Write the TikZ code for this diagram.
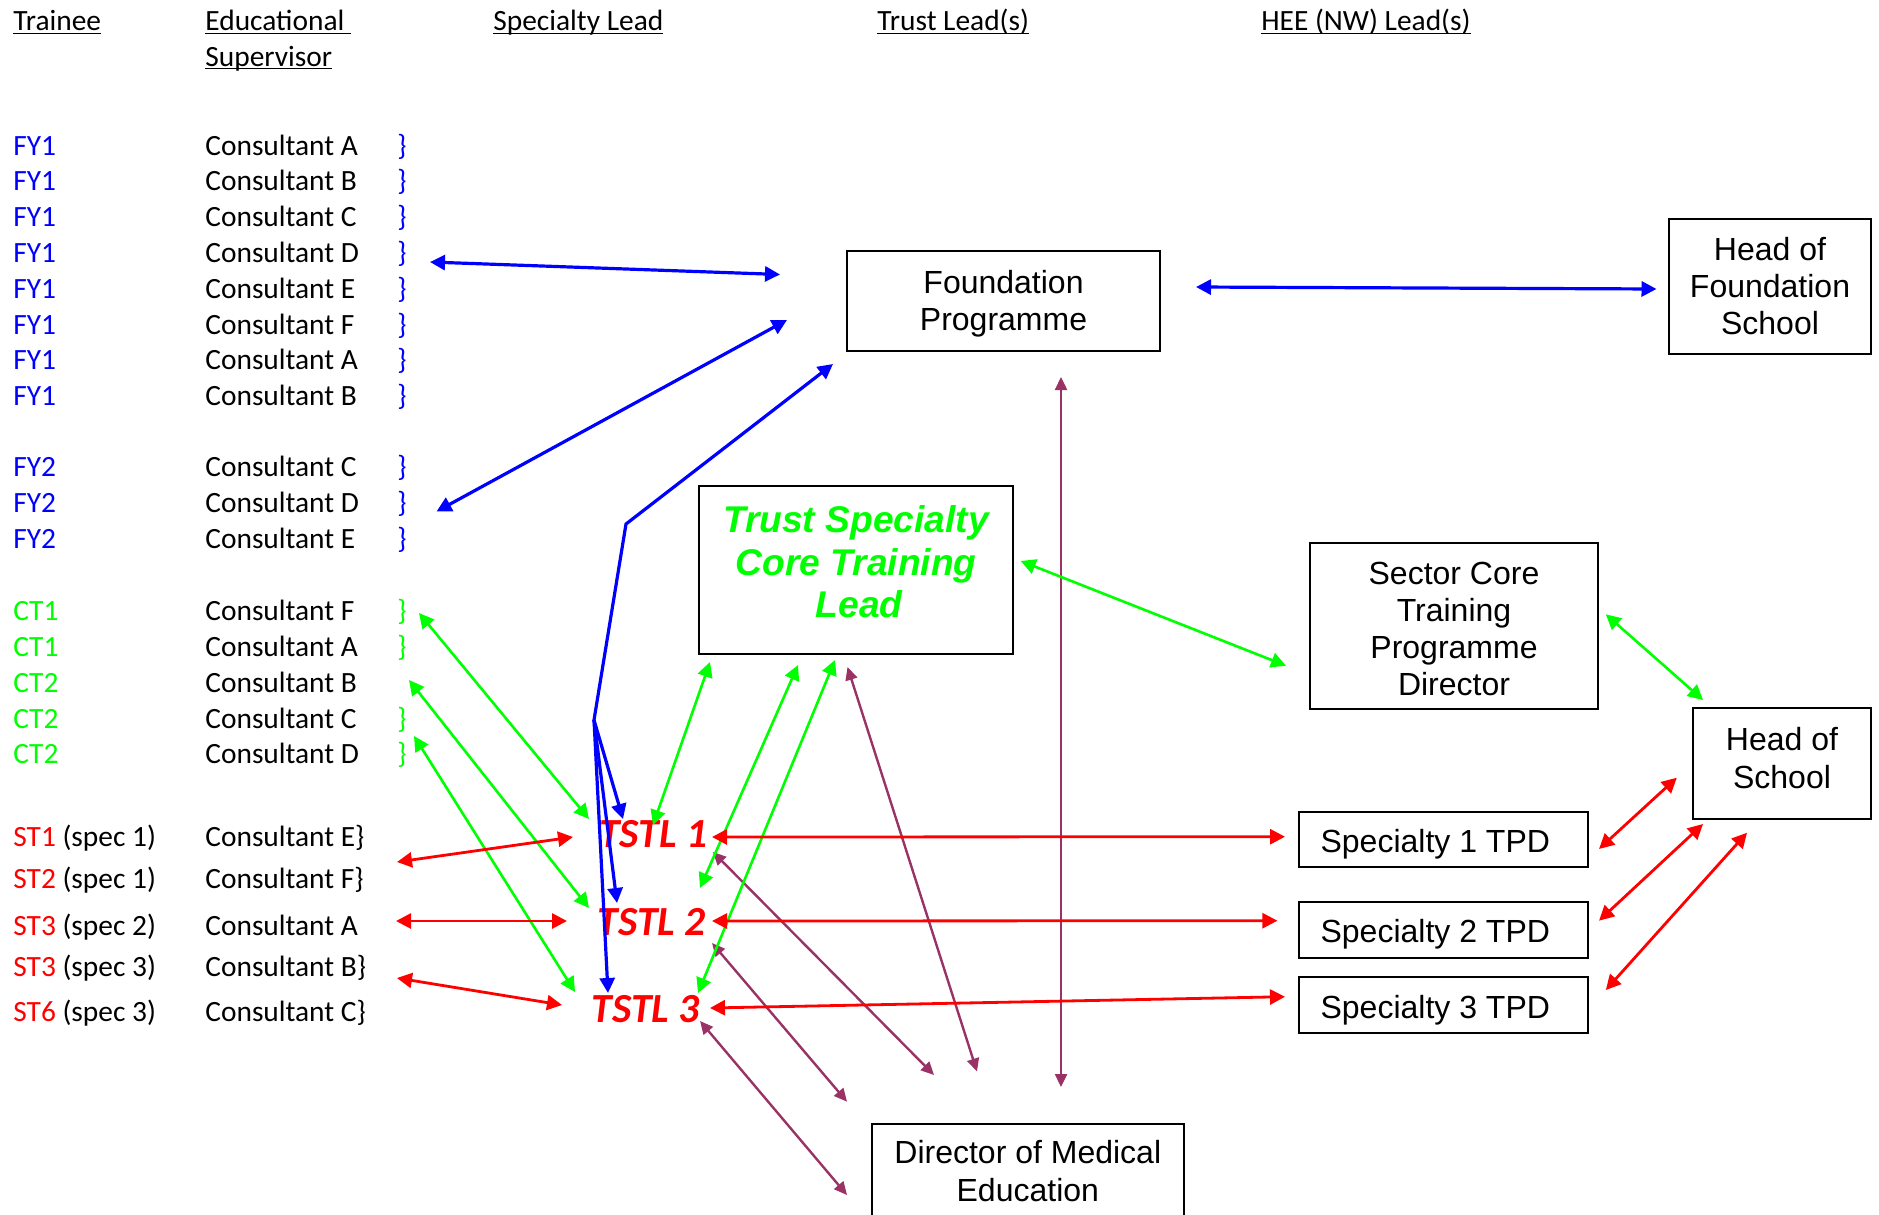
\documentclass[tikz,border=0pt]{standalone}
\usepackage{fontspec}
\setmainfont{Carlito}
\newfontfamily\arialfont{Liberation Sans}
\usetikzlibrary{arrows.meta}
\definecolor{cblue}{RGB}{0,0,255}
\definecolor{cgreen}{RGB}{0,255,0}
\definecolor{cred}{RGB}{255,0,0}
\definecolor{cpurple}{RGB}{153,51,102}
\newcommand{\ulx}[1]{\underline{\smash{#1}}}
\newcommand{\dn}[1]{\rule[-#1]{0pt}{#1}}
\begin{document}
\begin{tikzpicture}[x=0.5pt,y=-0.5pt,
  txt/.style={anchor=base west,inner sep=0pt,font=\fontsize{14.7}{17.7}\selectfont},
  box/.style={draw=black,line width=1pt,align=center,inner sep=0pt,font=\arialfont\fontsize{16}{18.6}\selectfont},
  tstl/.style={anchor=base west,inner sep=0pt,text=cred,font=\fontsize{20.7}{24}\selectfont\bfseries\itshape},
  bl/.style={draw=cblue,line width=1.6pt,>={Triangle[length=7.5pt,width=7.5pt]}},
  gr/.style={draw=cgreen,line width=1.3pt,>={Triangle[length=7.5pt,width=7.5pt]},<->},
  rd/.style={draw=cred,line width=1.4pt,>={Triangle[length=7.5pt,width=7.5pt]},<->},
  pu/.style={draw=cpurple,line width=1.2pt,>={Triangle[length=6.5pt,width=6pt]},<->}
]
\useasboundingbox (0,0) rectangle (1879,1215);
\clip (0,0) rectangle (1879,1215);
\fill[white] (0,0) rectangle (1879,1215);

% headers
\node[txt] (hTr) at (13,30.5) {\ulx{Trainee}};
\node[txt] (hEd) at (205,30.5) {\ulx{Educational\ }};
\node[txt] (hSu) at (205,66) {\ulx{Supervisor}};
\node[txt] (hSp) at (493,30.5) {\ulx{Specialty Lead}};
\node[txt] (hTl) at (877,30.5) {\ulx{Trust Lead(s)}};
\node[txt] (hHe) at (1261,30.5) {\ulx{HEE (NW) Lead(s)}};

% trainee and supervisor rows
\foreach \i/\lab/\cons/\yy in {1/FY1/A/155,2/FY1/B/190.8,3/FY1/C/226.6,4/FY1/D/262.4,5/FY1/E/298.2,6/FY1/F/334,7/FY1/A/369.8,8/FY1/B/405.6,9/FY2/C/476.3,10/FY2/D/512.3,11/FY2/E/548.2}{
  \node[txt,text=cblue] (tr\i) at (13,\yy) {\lab};
  \node[txt] (cs\i) at (205,\yy) {Consultant \cons};
  \node[txt,text=cblue] (br\i) at (397,\yy) {\}};
}
\foreach \i/\lab/\cons/\yy in {12/CT1/F/620.1,13/CT1/A/656.1,14/CT2/B/692,15/CT2/C/728,16/CT2/D/763.9}{
  \node[txt,text=cgreen] (tr\i) at (13,\yy) {\lab};
  \node[txt] (cs\i) at (205,\yy) {Consultant \cons};
}
\foreach \i/\yy in {12/620.1,13/656.1,15/728,16/763.9}{
  \node[txt,text=cgreen] (br\i) at (397,\yy) {\}};
}
\foreach \i/\lab/\sp/\cons/\yy in {17/ST1/1/Consultant E\}/846.7,18/ST2/1/Consultant F\}/888.3,19/ST3/2/Consultant A/935,20/ST3/3/Consultant B\}/976,21/ST6/3/Consultant C\}/1021.7}{
  \node[txt] (tr\i) at (13,\yy) {\textcolor{cred}{\lab} (spec \sp)};
  \node[txt] (cs\i) at (205,\yy) {\cons};
}

% TSTL labels
\node[tstl] (tl1) at (599,847.5) {TSTL 1};
\node[tstl] (tl2) at (597.5,935.5) {TSTL 2};
\node[tstl] (tl3) at (591.5,1022.5) {TSTL 3};

% boxes
\node[box,minimum width=156.5pt,minimum height=50pt] (fp) at (1003.5,301) {\rule{0pt}{14.1pt}Foundation\\Programme};
\node[box,minimum width=101pt,minimum height=67.5pt] (hfs) at (1770,286) {Head of\\Foundation\\School};
\node[box,minimum width=156.7pt,minimum height=84pt,text=cgreen,font=\arialfont\fontsize{18.6}{21.3}\selectfont\bfseries\itshape] (tsc) at (856,570) {Trust Specialty\\Core Training\\\hspace*{3pt}Lead\dn{8.4pt}};
\node[box,minimum width=144pt,minimum height=83.3pt] (sec) at (1454,626) {\rule{0pt}{14.1pt}Sector Core\\Training\\Programme\\Director};
\node[box,minimum width=89pt,minimum height=55.5pt] (hos) at (1782,763.8) {Head of\\School\dn{6pt}};
\node[box,minimum width=144.3pt,minimum height=27.5pt] (s1) at (1443.3,839.2) {\rule{0pt}{16.6pt}Specialty 1 TPD\hspace*{8pt}};
\node[box,minimum width=144.3pt,minimum height=28pt] (s2) at (1443.3,929.7) {\rule{0pt}{16.6pt}Specialty 2 TPD\hspace*{8pt}};
\node[box,minimum width=144.3pt,minimum height=27.8pt] (s3) at (1443.3,1004.8) {\rule{0pt}{16.6pt}Specialty 3 TPD\hspace*{8pt}};
\node[box,anchor=north,minimum width=155.8pt,inner ysep=8.5pt,text depth=60pt] (dme) at (1027.8,1122.7) {Director of Medical\\Education};

% coordinates of connector ends
\coordinate (b1a) at (430,262); \coordinate (b1b) at (780,274.5);
\coordinate (b2a) at (436.5,511.5); \coordinate (b2b) at (787,320);
\coordinate (bj) at (594,720); \coordinate (bk) at (626,524); \coordinate (b3b) at (833,364);
\coordinate (b4b) at (623,819); \coordinate (b5b) at (617,903); \coordinate (b6b) at (608,993);
\coordinate (b7a) at (1196,287); \coordinate (b7b) at (1656.5,289);

\coordinate (g1a) at (419,613); \coordinate (g1b) at (589,819);
\coordinate (g2a) at (409,680); \coordinate (g2b) at (589,908);
\coordinate (g3a) at (414,736); \coordinate (g3b) at (575,992);
\coordinate (g4a) at (710,662); \coordinate (g4b) at (653,825);
\coordinate (g5a) at (798,665); \coordinate (g5b) at (700,888);
\coordinate (g6a) at (835,660); \coordinate (g6b) at (698,993);
\coordinate (g7a) at (1020.7,561); \coordinate (g7b) at (1286,665.7);
\coordinate (g8a) at (1605.8,614.3); \coordinate (g8b) at (1703,700);

\coordinate (r1a) at (397,862); \coordinate (r1b) at (573,837);
\coordinate (r2a) at (396,921); \coordinate (r2b) at (567,921);
\coordinate (r3a) at (397,978); \coordinate (r3b) at (562,1005);
\coordinate (r4a) at (712,837); \coordinate (r4b) at (1285,836.7);
\coordinate (r5a) at (712,921); \coordinate (r5b) at (1277.4,920.7);
\coordinate (r6a) at (710,1008); \coordinate (r6b) at (1285,996.7);
\coordinate (r7a) at (1599,849); \coordinate (r7b) at (1676.8,777.7);
\coordinate (r8a) at (1599,920.7); \coordinate (r8b) at (1703,824);
\coordinate (r9a) at (1605.8,990); \coordinate (r9b) at (1747,832.7);

\coordinate (p1a) at (1061,377); \coordinate (p1b) at (1061,1087);
\coordinate (p2a) at (847.5,667); \coordinate (p2b) at (977,1071.5);
\coordinate (p3a) at (713,852); \coordinate (p3b) at (934,1075);
\coordinate (p4a) at (712,943); \coordinate (p4b) at (847,1101.7);
\coordinate (p5a) at (700,1021); \coordinate (p5b) at (847,1195);

% purple
\draw[pu] (p1a) -- (p1b);
\draw[pu] (p2a) -- (p2b);
\draw[pu] (p3a) -- (p3b);
\draw[pu] (p4a) -- (p4b);
\draw[pu] (p5a) -- (p5b);

% green
\foreach \n in {1,...,8}{\draw[gr] (g\n a) -- (g\n b);}

% red
\foreach \n in {1,...,9}{\draw[rd] (r\n a) -- (r\n b);}

% blue
\draw[bl,<->] (b1a) -- (b1b);
\draw[bl,<->] (b2a) -- (b2b);
\draw[bl,->,line join=miter] (bj) -- (bk) -- (b3b);
\draw[bl,->] (bj) -- (b4b);
\draw[bl,->] (bj) -- (b5b);
\draw[bl,->] (bj) -- (b6b);
\draw[bl,<->] (b7a) -- (b7b);
\end{tikzpicture}
\end{document}
